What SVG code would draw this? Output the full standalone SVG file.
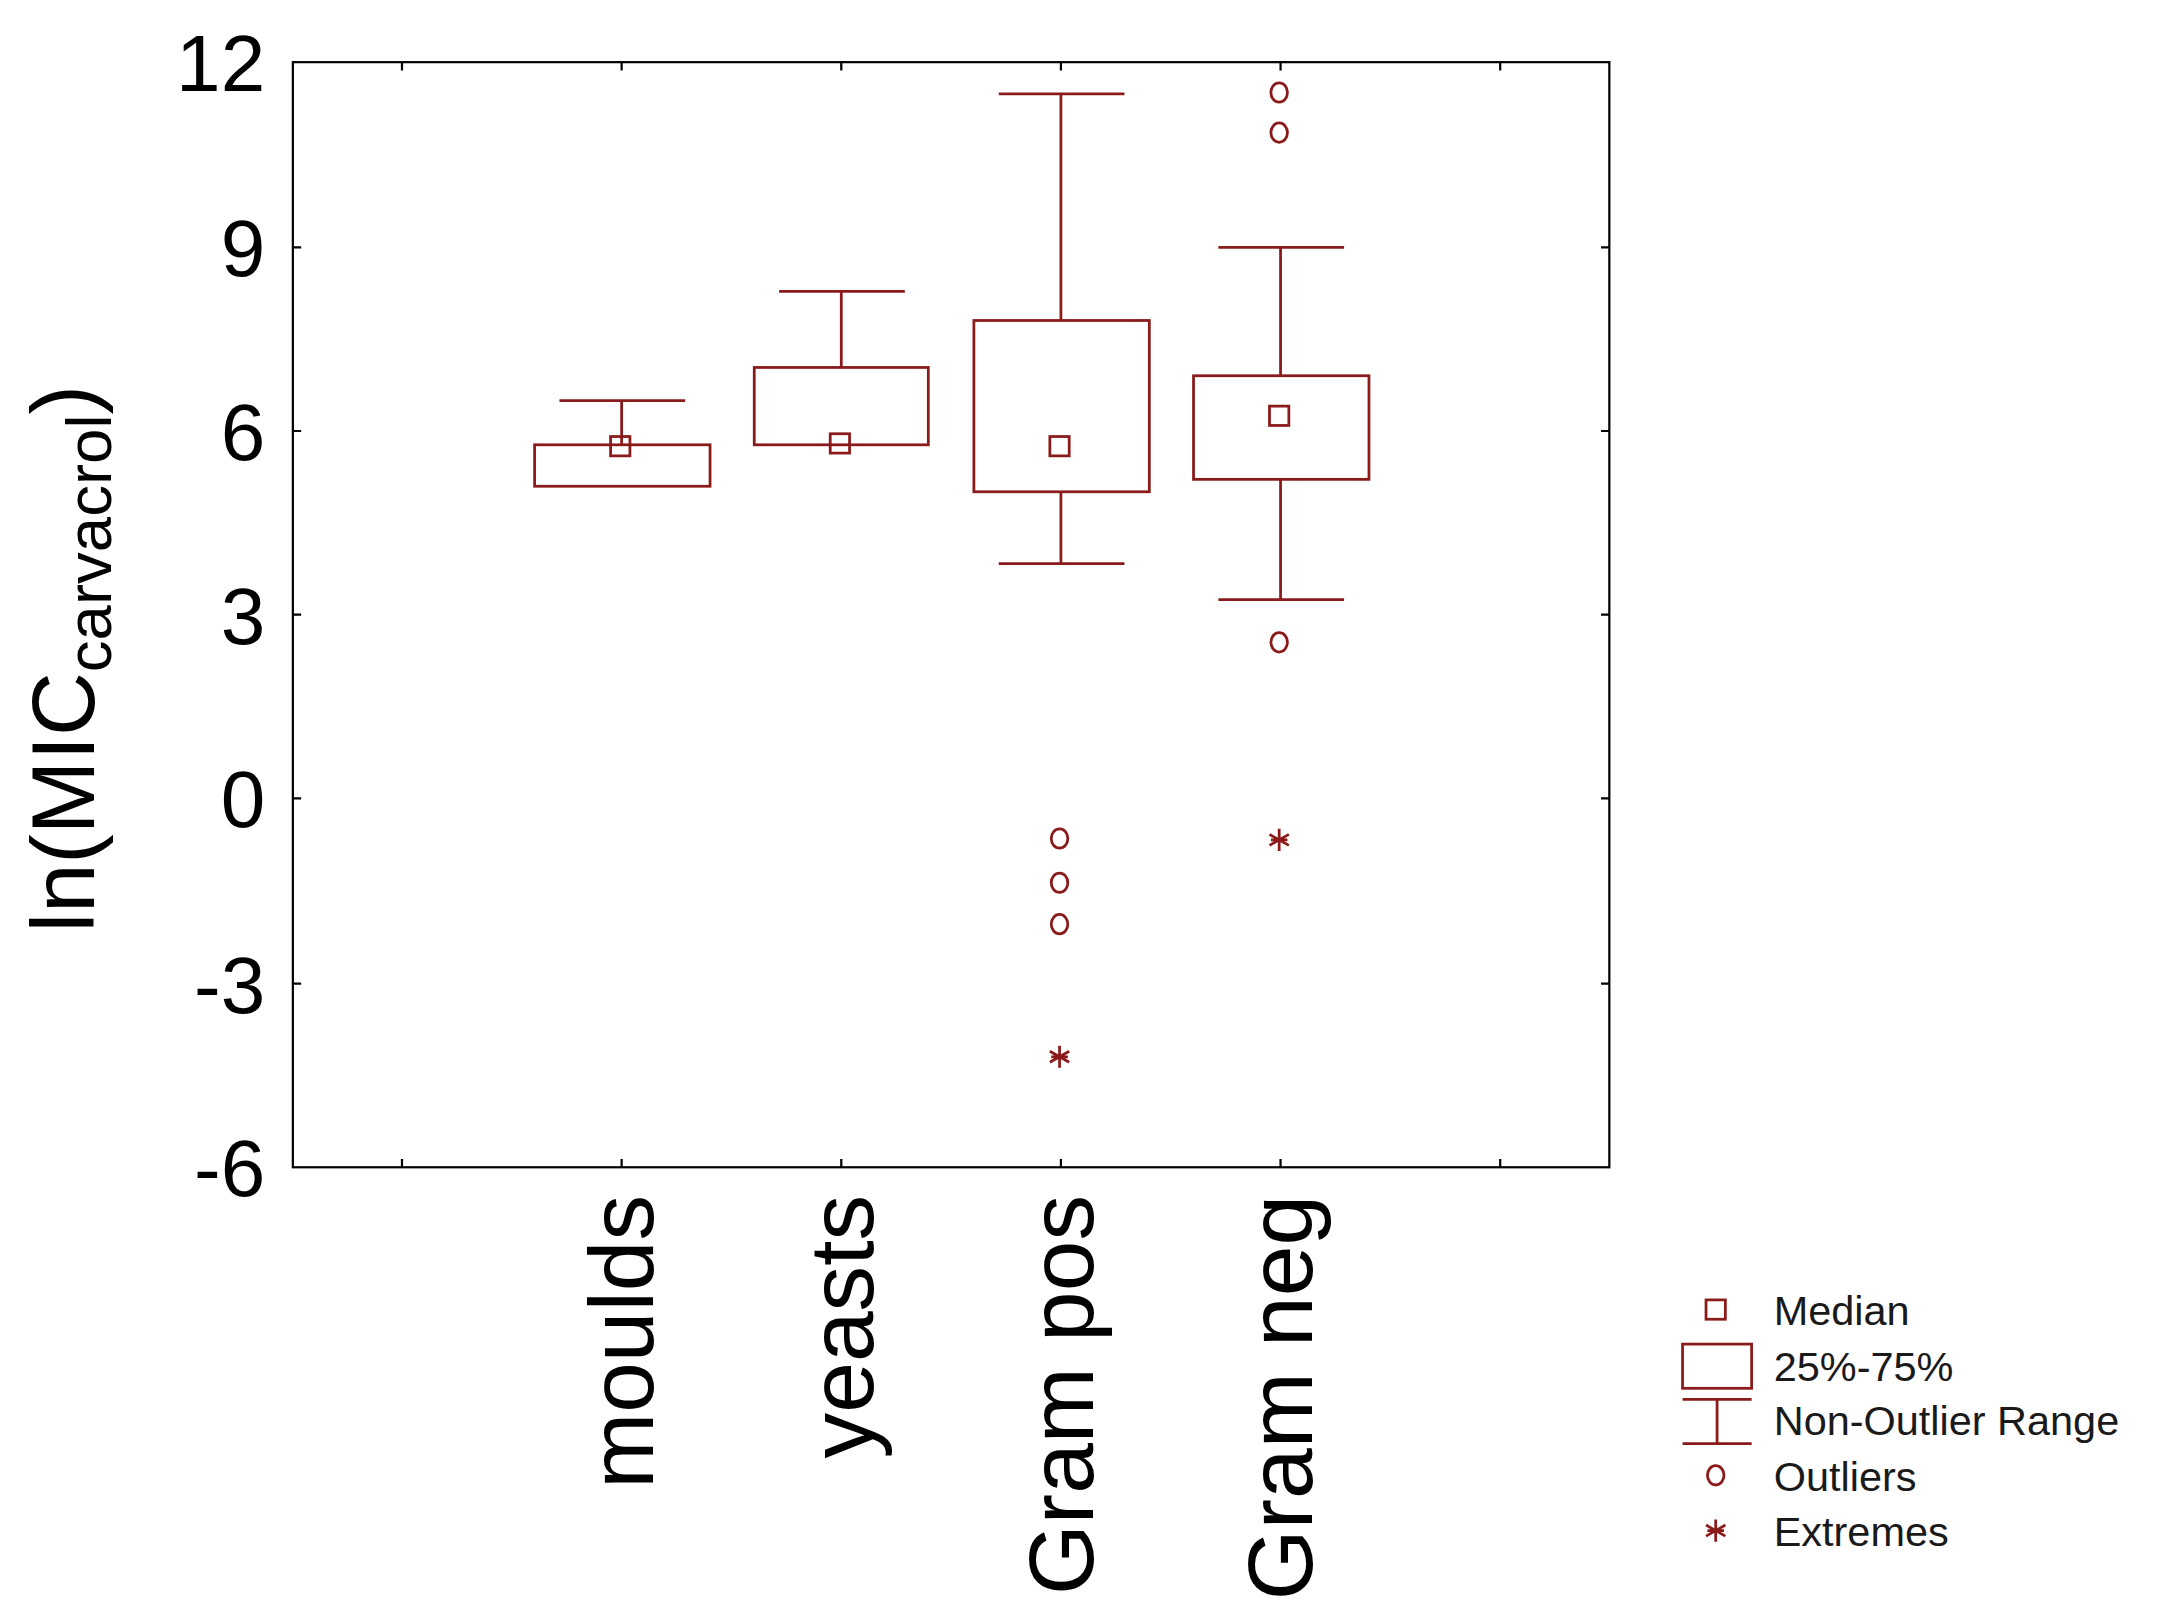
<svg xmlns="http://www.w3.org/2000/svg" width="2166" height="1624" viewBox="0 0 2166 1624">
<style>
.r{fill:none;stroke:#8b1a1a;stroke-width:2}
.ax{fill:none;stroke:#000;stroke-width:1.6}
.t{font-family:"Liberation Sans",Arial,sans-serif;fill:#000}
.tk{font-size:58px;text-anchor:end}
.cat{font-size:66px;text-anchor:end}
.lg{font-size:30px;fill:#1a1a1a}
</style>
<defs>
<ellipse id="o" cx="0" cy="0" rx="6" ry="7" class="r"/>
<rect id="m" x="-7" y="-7" width="14" height="14" class="r"/>
<g id="x"><path d="M0,-8V8M-7,-4L7,4M-7,4L7,-4M-6,0H6" class="r" stroke-width="2.5"/></g>
</defs>
<rect width="2166" height="1624" fill="#fff"/>
<g transform="scale(1.3814)">
<g id="axes">
<rect x="212" y="45" width="953" height="800" class="ax"/>
<path class="ax" d="M212,179h6M212,312h6M212,445h6M212,578h6M212,712h6M1165,179h-6M1165,312h-6M1165,445h-6M1165,578h-6M1165,712h-6M291,845v-6M450,845v-6M609,845v-6M768,845v-6M927,845v-6M1086,845v-6M291,45v6M450,45v6M609,45v6M768,45v6M927,45v6M1086,45v6"/>
<g class="t tk">
<text x="192" y="66">12</text><text x="192" y="200">9</text><text x="192" y="333">6</text><text x="192" y="466">3</text><text x="192" y="599">0</text><text x="192" y="733">-3</text><text x="192" y="866">-6</text>
</g>
<text class="t" font-size="64" transform="translate(68,675) rotate(-90)">ln(MIC<tspan font-size="46" dy="12">carvacrol</tspan><tspan dy="-12">)</tspan></text>
</g>
<g id="moulds">
<path class="r" d="M450,322V290M405,290H496"/>
<rect class="r" x="387" y="322" width="127" height="30"/>
<use href="#m" x="449" y="323"/>
<text class="t cat" transform="translate(473,865) rotate(-90)">moulds</text>
</g>
<g id="yeasts">
<path class="r" d="M609,266V211M564,211H655"/>
<rect class="r" x="546" y="266" width="126" height="56"/>
<use href="#m" x="608" y="321"/>
<text class="t cat" transform="translate(632,865) rotate(-90)">yeasts</text>
</g>
<g id="grampos">
<path class="r" d="M768,232V68M723,68H814M768,356V408M723,408H814"/>
<rect class="r" x="705" y="232" width="127" height="124"/>
<use href="#m" x="767" y="323"/>
<use href="#o" x="767" y="607"/><use href="#o" x="767" y="639"/><use href="#o" x="767" y="669"/>
<use href="#x" x="767" y="765"/>
<text class="t cat" transform="translate(791,865) rotate(-90)">Gram pos</text>
</g>
<g id="gramneg">
<path class="r" d="M927,272V179M882,179H973M927,347V434M882,434H973"/>
<rect class="r" x="864" y="272" width="127" height="75"/>
<use href="#m" x="926" y="301"/>
<use href="#o" x="926" y="67"/><use href="#o" x="926" y="96"/><use href="#o" x="926" y="465"/>
<use href="#x" x="926" y="608"/>
<text class="t cat" transform="translate(950,865) rotate(-90)">Gram neg</text>
</g>
<g id="legend">
<use href="#m" x="1242" y="948"/>
<rect class="r" x="1218" y="973" width="50" height="32"/>
<path class="r" d="M1243,1013V1045M1218,1013H1268M1218,1045H1268"/>
<use href="#o" x="1242" y="1068"/>
<use href="#x" x="1242" y="1108"/>
<g class="t lg">
<text x="1284" y="959">Median</text><text x="1284" y="1000">25%-75%</text><text x="1284" y="1039">Non-Outlier Range</text><text x="1284" y="1079">Outliers</text><text x="1284" y="1119">Extremes</text>
</g>
</g>
</g>
</svg>
